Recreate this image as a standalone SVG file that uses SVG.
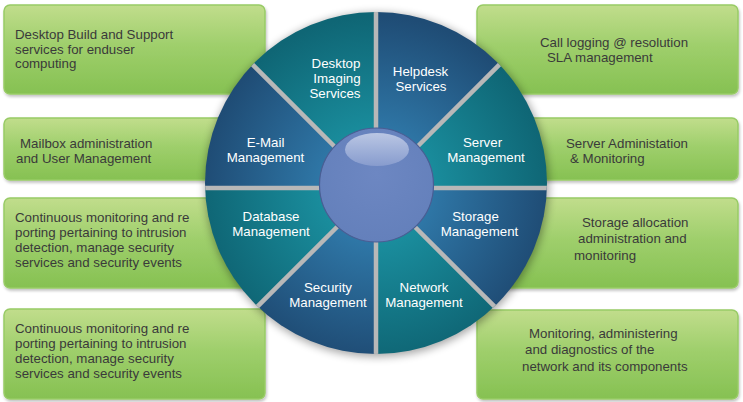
<svg xmlns="http://www.w3.org/2000/svg" width="743" height="402" viewBox="0 0 743 402">
<defs>
  <linearGradient id="gGreen" x1="0" y1="0" x2="0" y2="1">
    <stop offset="0" stop-color="#c1dd8c"/>
    <stop offset="0.45" stop-color="#9fcf6c"/>
    <stop offset="1" stop-color="#86c152"/>
  </linearGradient>
  <radialGradient id="gBlue" gradientUnits="userSpaceOnUse" cx="376" cy="188" r="172">
    <stop offset="0.3" stop-color="#2f78a8"/>
    <stop offset="1" stop-color="#1f4c75"/>
  </radialGradient>
  <radialGradient id="gTeal" gradientUnits="userSpaceOnUse" cx="376" cy="188" r="172">
    <stop offset="0.3" stop-color="#1a8e9e"/>
    <stop offset="1" stop-color="#0f6675"/>
  </radialGradient>
  <radialGradient id="gSphere" cx="0.5" cy="0.4" r="0.6">
    <stop offset="0" stop-color="#6d87c2"/>
    <stop offset="1" stop-color="#6480bb"/>
  </radialGradient>
  <linearGradient id="gHi" x1="0" y1="0" x2="0" y2="1">
    <stop offset="0" stop-color="#c3cee8"/>
    <stop offset="1" stop-color="#8a9ecf"/>
  </linearGradient>
  <filter id="fShadow" x="-20%" y="-20%" width="140%" height="140%">
    <feGaussianBlur stdDeviation="4"/>
  </filter>
  <filter id="fBox" x="-5%" y="-10%" width="110%" height="125%">
    <feGaussianBlur in="SourceAlpha" stdDeviation="1.5"/>
    <feOffset dx="1" dy="2" result="b"/>
    <feComponentTransfer><feFuncA type="linear" slope="0.25"/></feComponentTransfer>
    <feMerge><feMergeNode/><feMergeNode in="SourceGraphic"/></feMerge>
  </filter>
  <clipPath id="cWheel"><circle cx="376" cy="183" r="171"/></clipPath>
  <style>
    .box { fill: url(#gGreen); stroke: #98cb66; stroke-width: 1.5; filter: url(#fBox); }
    .bt { font-family: "Liberation Sans", Arial, sans-serif; font-size: 13.3px; fill: #3a3a3a; }
    .wt { font-family: "Liberation Sans", Arial, sans-serif; font-size: 13.3px; fill: #ffffff; text-anchor: middle; }
    .blue { fill: url(#gBlue); }
    .teal { fill: url(#gTeal); }
    .div { stroke: #b8b8b8; stroke-width: 4.5; }
  </style>
</defs>
<rect width="743" height="402" fill="#ffffff"/>

<!-- side boxes -->
<g id="box-desktop-build">
  <rect class="box" x="4" y="5" width="261" height="89" rx="6"/>
  <text class="bt"><tspan x="15" y="39">Desktop Build and Support</tspan><tspan x="15" y="54">services for enduser</tspan><tspan x="15" y="68">computing</tspan></text>
</g>
<g id="box-mailbox">
  <rect class="box" x="4" y="118" width="261" height="62" rx="6"/>
  <text class="bt"><tspan x="20" y="148">Mailbox administration</tspan><tspan x="16" y="163">and User Management</tspan></text>
</g>
<g id="box-intrusion-1">
  <rect class="box" x="4" y="198" width="261" height="90" rx="6"/>
  <text class="bt"><tspan x="15" y="222">Continuous monitoring and re</tspan><tspan x="15" y="237">porting pertaining to intrusion</tspan><tspan x="15" y="252">detection, manage security</tspan><tspan x="15" y="267">services and security events</tspan></text>
</g>
<g id="box-intrusion-2">
  <rect class="box" x="4" y="309" width="261" height="90" rx="6"/>
  <text class="bt"><tspan x="15" y="333">Continuous monitoring and re</tspan><tspan x="15" y="348">porting pertaining to intrusion</tspan><tspan x="15" y="363">detection, manage security</tspan><tspan x="15" y="378">services and security events</tspan></text>
</g>
<g id="box-call-logging">
  <rect class="box" x="477" y="5" width="261" height="89" rx="6"/>
  <text class="bt"><tspan x="540" y="47">Call logging @ resolution</tspan><tspan x="547" y="62">SLA management</tspan></text>
</g>
<g id="box-server-admin">
  <rect class="box" x="477" y="118" width="261" height="62" rx="6"/>
  <text class="bt"><tspan x="566" y="148">Server Administation</tspan><tspan x="570" y="163">&amp; Monitoring</tspan></text>
</g>
<g id="box-storage-alloc">
  <rect class="box" x="477" y="198" width="261" height="90" rx="6"/>
  <text class="bt"><tspan x="582" y="227">Storage allocation</tspan><tspan x="578" y="243">administration and</tspan><tspan x="574" y="260">monitoring</tspan></text>
</g>
<g id="box-network-mon">
  <rect class="box" x="477" y="310" width="261" height="89" rx="6"/>
  <text class="bt"><tspan x="529" y="338">Monitoring, administering</tspan><tspan x="525" y="354">and diagnostics of the</tspan><tspan x="522" y="371">network and its components</tspan></text>
</g>

<!-- wheel shadow -->
<circle cx="377" cy="185" r="172" fill="#000000" opacity="0.35" filter="url(#fShadow)"/>

<!-- wheel segments -->
<g clip-path="url(#cWheel)">
  <g id="seg-helpdesk"><polygon class="blue" points="376,188 376,-112 588.1,-24.1"/></g>
  <g id="seg-server"><polygon class="teal" points="376,188 588.1,-24.1 676,188"/></g>
  <g id="seg-storage"><polygon class="blue" points="376,188 676,188 588.1,400.1"/></g>
  <g id="seg-network"><polygon class="teal" points="376,188 588.1,400.1 376,488"/></g>
  <g id="seg-security"><polygon class="blue" points="376,188 376,488 163.9,400.1"/></g>
  <g id="seg-database"><polygon class="teal" points="376,188 163.9,400.1 76,188"/></g>
  <g id="seg-email"><polygon class="blue" points="376,188 76,188 163.9,-24.1"/></g>
  <g id="seg-desktop-imaging"><polygon class="teal" points="376,188 163.9,-24.1 376,-112"/></g>
  <g id="dividers">
    <line class="div" x1="376" y1="188" x2="376" y2="0"/>
    <line class="div" x1="376" y1="188" x2="376" y2="380"/>
    <line class="div" x1="376" y1="188" x2="180" y2="188"/>
    <line class="div" x1="376" y1="188" x2="570" y2="188"/>
    <line class="div" x1="376" y1="188" x2="240" y2="52"/>
    <line class="div" x1="376" y1="188" x2="512" y2="52"/>
    <line class="div" x1="376" y1="188" x2="240" y2="324"/>
    <line class="div" x1="376" y1="188" x2="512" y2="324"/>
  </g>
</g>

<!-- hub -->
<g id="hub">
  <circle cx="376.5" cy="185" r="57" fill="url(#gSphere)" stroke="#4a5e94" stroke-width="1.2"/>
  <ellipse cx="377" cy="149.5" rx="32" ry="16.5" fill="url(#gHi)" opacity="0.9"/>
</g>

<!-- wheel labels -->
<g id="labels">
  <text class="wt"><tspan x="336" y="68">Desktop</tspan><tspan x="337" y="83">Imaging</tspan><tspan x="335" y="98">Services</tspan></text>
  <text class="wt"><tspan x="420.5" y="76">Helpdesk</tspan><tspan x="421" y="91">Services</tspan></text>
  <text class="wt"><tspan x="265.5" y="147">E-Mail</tspan><tspan x="265.5" y="162">Management</tspan></text>
  <text class="wt"><tspan x="482.5" y="147">Server</tspan><tspan x="486" y="162">Management</tspan></text>
  <text class="wt"><tspan x="271" y="221">Database</tspan><tspan x="271" y="236">Management</tspan></text>
  <text class="wt"><tspan x="475.5" y="221">Storage</tspan><tspan x="479.5" y="236">Management</tspan></text>
  <text class="wt"><tspan x="328" y="292">Security</tspan><tspan x="328" y="307">Management</tspan></text>
  <text class="wt"><tspan x="424" y="292">Network</tspan><tspan x="424" y="307">Management</tspan></text>
</g>
</svg>
